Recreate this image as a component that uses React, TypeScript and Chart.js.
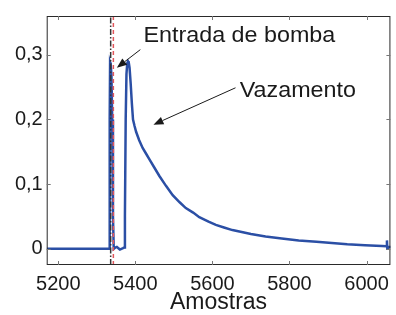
import React, { useEffect, useRef } from 'react';
import { Chart, registerables } from 'chart.js';
Chart.register(...registerables);

// Samples (x) and signal values (y)
const sampleX = [5170, 5333, 5333.5, 5334.5, 5336, 5338, 5340, 5342, 5344, 5348, 5352, 5356, 5360, 5364, 5368, 5371, 5373, 5375, 5377, 5379, 5381, 5383, 5385, 5388, 5391, 5394, 5398, 5402, 5410, 5419, 5428, 5437, 5450, 5462, 5480, 5497, 5515, 5531, 5550, 5566, 5590, 5609, 5630, 5652, 5700, 5738, 5780, 5824, 5870, 5910, 5950, 5996, 6040, 6052, 6053, 6054, 6055, 6060, 6065];
const signalY = [0, 0, 0.2, 0.288, 0.285, 0.27, 0.2, 0.05, 0, 0.002, 0.003, 0.001, -0.001, 0.0, 0.001, 0.002, 0.05, 0.2, 0.27, 0.287, 0.29, 0.288, 0.28, 0.255, 0.225, 0.2, 0.19, 0.181, 0.168, 0.156, 0.147, 0.138, 0.125, 0.113, 0.097, 0.083, 0.072, 0.063, 0.056, 0.049, 0.042, 0.037, 0.033, 0.029, 0.023, 0.019, 0.016, 0.013, 0.011, 0.009, 0.007, 0.0055, 0.0045, 0.004, 0.013, 0.0, 0.003, 0.003, 0.003];

const xTicks = [5200, 5400, 5600, 5800, 6000];
const yTicks = [0, 0.1, 0.2, 0.3];
const xRange = [5170, 6062];
const yRange = [-0.025, 0.36];

const pumpLineX = 5336;
const leakLineX = 5343;

const noteLabels = ['Entrada de bomba', 'Vazamento'];
const noteTextX = [5421, 5671];
const noteTextY = [0.32, 0.234];
const arrowFromX = [5413, 5660];
const arrowFromY = [0.308, 0.249];
const arrowToX = [5352, 5447];
const arrowToY = [0.28, 0.192];

const FONT = '"Liberation Sans", Arial, Helvetica, sans-serif';

const framePlugin = {
  id: 'frame',
  afterDatasetsDraw(chart: any) {
    const { ctx, chartArea: a, scales } = chart;
    const xs = scales.x, ys = scales.y;
    ctx.save();
    // box
    ctx.strokeStyle = '#2a2a2a';
    ctx.lineWidth = 1;
    ctx.strokeRect(a.left + 0.5, a.top + 0.5, a.right - a.left - 1, a.bottom - a.top - 1);
    // inward ticks
    ctx.strokeStyle = '#777';
    const tl = 4;
    ctx.beginPath();
    xTicks.forEach((v) => {
      const px = Math.round(xs.getPixelForValue(v)) + 0.5;
      ctx.moveTo(px, a.bottom); ctx.lineTo(px, a.bottom - tl);
      ctx.moveTo(px, a.top); ctx.lineTo(px, a.top + tl);
    });
    yTicks.forEach((v) => {
      const py = Math.round(ys.getPixelForValue(v)) + 0.5;
      ctx.moveTo(a.left, py); ctx.lineTo(a.left + tl, py);
      ctx.moveTo(a.right, py); ctx.lineTo(a.right - tl, py);
    });
    ctx.stroke();
    // annotations
    ctx.fillStyle = '#1a1a1a';
    ctx.strokeStyle = '#1a1a1a';
    ctx.font = `22px ${FONT}`;
    ctx.textBaseline = 'alphabetic';
    ctx.textAlign = 'left';
    noteLabels.forEach((t, i) => {
      const tx = xs.getPixelForValue(noteTextX[i]);
      const ty = ys.getPixelForValue(noteTextY[i]);
      ctx.save();
      ctx.translate(tx, ty);
      ctx.scale(1.06, 1);
      ctx.fillText(t, 0, 0);
      ctx.restore();
      const x1 = xs.getPixelForValue(arrowFromX[i]);
      const y1 = ys.getPixelForValue(arrowFromY[i]);
      const x2 = xs.getPixelForValue(arrowToX[i]);
      const y2 = ys.getPixelForValue(arrowToY[i]);
      const ang = Math.atan2(y2 - y1, x2 - x1);
      const hl = 10, hw = 4;
      const bx = x2 - hl * Math.cos(ang), by = y2 - hl * Math.sin(ang);
      ctx.lineWidth = 1;
      ctx.beginPath();
      ctx.moveTo(x1, y1); ctx.lineTo(bx, by);
      ctx.stroke();
      ctx.beginPath();
      ctx.moveTo(x2, y2);
      ctx.lineTo(bx + hw * Math.sin(ang), by - hw * Math.cos(ang));
      ctx.lineTo(bx - hw * Math.sin(ang), by + hw * Math.cos(ang));
      ctx.closePath();
      ctx.fill();
    });
    ctx.restore();
  },
};

export default function App() {
  const ref = useRef<HTMLCanvasElement>(null);
  useEffect(() => {
    if (!ref.current) return;
    const chart = new Chart(ref.current, {
      type: 'line',
      data: {
        datasets: [
          {
            data: sampleX.map((x, i) => ({ x, y: signalY[i] })),
            borderColor: '#2b4fa5',
            borderWidth: 2.5,
            pointRadius: 0,
            tension: 0,
            order: 2,
          },
          {
            data: [{ x: pumpLineX, y: yRange[0] }, { x: pumpLineX, y: yRange[1] }],
            borderColor: '#333333',
            borderWidth: 1.5,
            borderDash: [6, 2, 1.5, 2],
            pointRadius: 0,
            order: 1,
          },
          {
            data: [{ x: leakLineX, y: yRange[0] }, { x: leakLineX, y: yRange[1] }],
            borderColor: '#e0565b',
            borderWidth: 1.5,
            borderDash: [4, 3],
            pointRadius: 0,
            order: 0,
          },
        ],
      },
      options: {
        animation: false,
        responsive: false,
        parsing: false as any,
        layout: { padding: { top: 10, right: 3.3, left: 0, bottom: 0 } },
        plugins: { legend: { display: false }, tooltip: { enabled: false } },
        scales: {
          x: {
            type: 'linear',
            min: xRange[0],
            max: xRange[1],
            afterBuildTicks: (axis: any) => { axis.ticks = xTicks.map((v) => ({ value: v })); },
            afterFit: (axis: any) => { axis.height = 50; },
            grid: { display: false, drawTicks: false },
            border: { display: false },
            ticks: {
              font: { size: 20, family: FONT },
              color: '#1a1a1a',
              padding: 7,
              maxRotation: 0,
              autoSkip: false,
              callback: (v: any) => String(v),
            },
            title: {
              display: true,
              text: 'Amostras',
              font: { size: 23, family: FONT },
              color: '#1a1a1a',
              padding: { top: 0, bottom: -1 },
            },
          },
          y: {
            type: 'linear',
            min: yRange[0],
            max: yRange[1],
            afterBuildTicks: (axis: any) => { axis.ticks = yTicks.map((v) => ({ value: v })); },
            afterFit: (axis: any) => { axis.width = 46.7; },
            grid: { display: false, drawTicks: false },
            border: { display: false },
            ticks: {
              font: { size: 20, family: FONT },
              color: '#1a1a1a',
              padding: 4,
              autoSkip: false,
              callback: (v: any) => (v === 0 ? '0' : Number(v).toFixed(1).replace('.', ',')),
            },
          },
        },
      },
      plugins: [framePlugin],
    } as any);
    return () => chart.destroy();
  }, []);
  return (
    <div style={{ position: 'absolute', left: 0, top: 0, width: 396, height: 315, background: '#fff' }}>
      <canvas ref={ref} width={396} height={315} style={{ display: 'block' }} />
    </div>
  );
}
